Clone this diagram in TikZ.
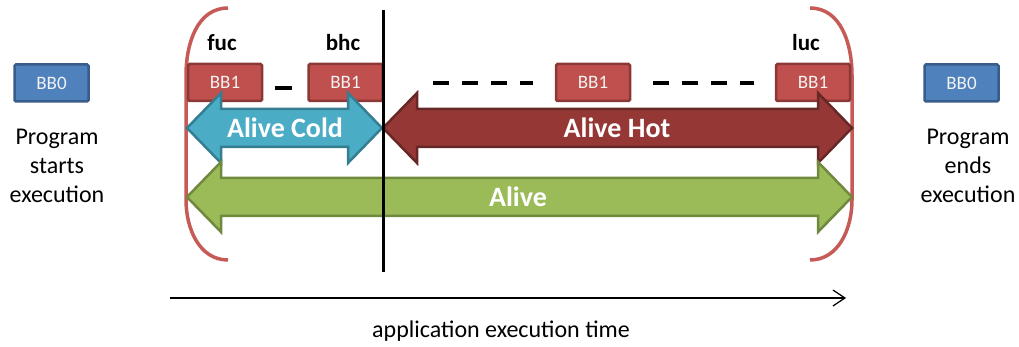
\documentclass[tikz,border=0pt]{standalone}
\usepackage{fontspec}
\setmainfont{Carlito}
\usetikzlibrary{arrows.meta}

\definecolor{bbblue}{HTML}{4F81BD}
\definecolor{bbblueline}{HTML}{385D8A}
\definecolor{bbred}{HTML}{C0504D}
\definecolor{bbredline}{HTML}{8C3836}
\definecolor{coldfill}{HTML}{4BACC6}
\definecolor{coldline}{HTML}{357D91}
\definecolor{hotfill}{HTML}{953735}
\definecolor{hotline}{HTML}{662826}
\definecolor{alivefill}{HTML}{9BBB59}
\definecolor{aliveline}{HTML}{71893F}
\definecolor{bracketred}{HTML}{C55A57}

% two-headed block arrow: style, left tip x, right tip x, centre y
\newcommand{\twowayarrow}[4]{%
  \draw[#1] (#2,#4) -- (#2+34,#4-35) -- (#2+34,#4-19) -- (#3-34,#4-19)
    -- (#3-34,#4-35) -- (#3,#4) -- (#3-34,#4+35) -- (#3-34,#4+19)
    -- (#2+34,#4+19) -- (#2+34,#4+35) -- cycle;}

\begin{document}
\begin{tikzpicture}[x=1pt,y=-1pt,
  blockbox/.style={line width=2.5pt, rounded corners=1.5pt, minimum width=74pt,
    minimum height=37pt, inner sep=0pt, text=white!95!black,
    font=\fontsize{19}{19}\selectfont},
  bbzero/.style={blockbox, draw=bbblueline, fill=bbblue},
  bbone/.style={blockbox, draw=bbredline, fill=bbred},
  caption/.style={align=center, font=\fontsize{24}{29}\selectfont},
  uselabel/.style={font=\fontsize{23}{23}\selectfont\bfseries},
  arrowlabel/.style={text=white, font=\fontsize{28}{28}\selectfont\bfseries},
  blockarrow/.style={line width=2.5pt, line join=miter},
  bracket/.style={draw=bracketred, line width=3.5pt},
  gapdash/.style={line width=4pt, dash pattern=on 16pt off 13pt}]
\useasboundingbox (0,0) rectangle (1019,347);

% program start and end
\node[bbzero] (start) at (51.5,83) {BB0};
\node[caption] (starttext) at (57,166) {Program\\starts\\execution};
\node[bbzero] (end) at (961.5,83) {BB0};
\node[caption] (endtext) at (968,166) {Program\\ends\\execution};

% lifetime brackets
\draw[bracket] (228,8) to[out=180,in=90] (186,75) -- (186,200) to[out=-90,in=180] (228,260);
\draw[bracket] (810,8) to[out=0,in=90] (852,75) -- (852,200) to[out=-90,in=0] (810,260);

% uses of block BB1
\node[bbone] (fuc) at (225,82.5) {BB1};
\node[bbone] (bhc) at (345.5,82.5) {BB1};
\node[bbone] (mid) at (593,82.5) {BB1};
\node[bbone] (luc) at (813,82.5) {BB1};

\node[uselabel] (fuclabel) at (222,43) {fuc};
\node[uselabel] (bhclabel) at (343,43) {bhc};
\node[uselabel] (luclabel) at (806,43) {luc};

% gaps between uses
\coordinate (d0a) at (275,88);
\coordinate (d0b) at (292,88);
\draw[line width=4pt] (d0a) -- (d0b);
\coordinate (d1a) at (433,83);
\coordinate (d1b) at (533,83);
\draw[gapdash] (d1a) -- (d1b);
\coordinate (d2a) at (653,83);
\coordinate (d2b) at (754,83);
\draw[gapdash] (d2a) -- (d2b);

% liveness intervals
\twowayarrow{blockarrow, draw=coldline, fill=coldfill}{187}{382}{128}
\twowayarrow{blockarrow, draw=hotline, fill=hotfill}{383}{852}{128}
\twowayarrow{blockarrow, draw=aliveline, fill=alivefill}{187}{852}{197}

\node[arrowlabel] (coldlabel) at (285,128) {Alive Cold};
\node[arrowlabel] (hotlabel) at (617,128) {Alive Hot};
\node[arrowlabel] (alivelabel) at (518,197) {Alive};

% current point in time
\coordinate (nowtop) at (383,10);
\coordinate (nowbottom) at (383,272);
\draw[line width=3pt] (nowtop) -- (nowbottom);

% time axis
\coordinate (tstart) at (170,298);
\coordinate (tend) at (846,298);
\draw[line width=1.2pt, -{Straight Barb[length=12pt,width=16pt,line width=1.2pt]}] (tstart) -- (tend);
\node[font=\fontsize{24}{24}\selectfont] (timelabel) at (501,331) {application execution time};
\end{tikzpicture}
\end{document}
